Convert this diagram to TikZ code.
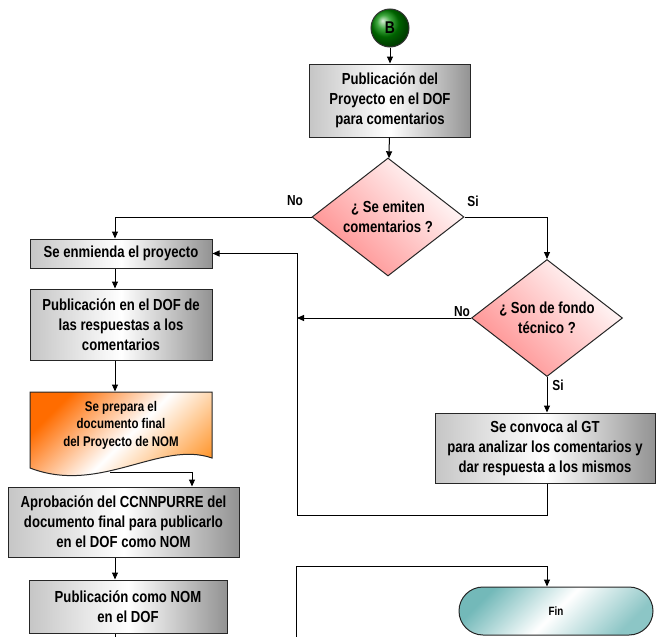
\documentclass[tikz,border=0pt]{standalone}
\usepackage{fontspec}
\setmainfont{Liberation Sans}[FakeStretch=0.82]
\usetikzlibrary{arrows.meta, positioning, shapes}

\tikzset{
  caja/.style = {draw=black!85, rectangle, align=center, inner sep=1pt,
    left color=gray!45, right color=gray!85, middle color=white},
  rombo/.style = {draw=black!85, diamond, aspect=1.3, align=center, inner sep=0pt,
    top color=white, bottom color=red!45, shading angle=-45},
  etiqueta/.style = {font=\bfseries\fontsize{14.5}{14.5}\selectfont}
}

\begin{document}
\begin{tikzpicture}[x=1pt, y=-1pt, line width=1pt,
    >={Triangle[length=7pt, width=6pt]},
    every node/.append style = {font=\bfseries\fontsize{16}{20}\selectfont}
  ]
  \useasboundingbox (0,0) rectangle (657,637);
  % columnas
  \coordinate (col) at (115,0);
  \coordinate (colder) at (192,0);
  \coordinate (colgt) at (547,0);
  \coordinate (lazo) at (297,515);
  \coordinate (abajo) at (0,637);
  \coordinate (entrafin) at (296,637);
  \coordinate (docsal) at (110,472);

  \node[circle, ball color=green!55!black, draw=black!80, minimum size=38pt,
    inner sep=0pt, font=\bfseries\fontsize{17}{17}\selectfont] (B) at (390,28) {B};

  \node[caja, minimum width=161pt, minimum height=73pt] (pubproy) at (390,100.5)
    {Publicación del\\Proyecto en el DOF\\para comentarios};
  \node[rombo, minimum width=152pt, minimum height=118pt] (emiten) at (388,217)
    {¿ Se emiten\\comentarios ?};

  \node[caja, minimum width=182pt, minimum height=29pt] (enmienda) at (121,253.5)
    {Se enmienda el proyecto};
  \node[caja, minimum width=182pt, minimum height=71pt] (respuestas) at (121,324.5)
    {Publicación en el DOF de\\las respuestas a los\\comentarios};

  % documento
  \draw[draw=black!85, left color=orange!85!red, right color=orange!80, middle color=white,
    shading angle=45]
    (30,392) -- (212,392) -- (212,458) .. controls (160,440) and (100,495) .. (30,468) -- cycle;
  \node[minimum width=182pt, minimum height=66pt, align=center,
    font=\bfseries\fontsize{14}{17.5}\selectfont] (docfinal) at (121,425)
    {Se prepara el\\documento final\\del Proyecto de NOM};

  \node[caja, minimum width=231pt, minimum height=70pt] (aprobacion) at (123.5,522)
    {Aprobación del CCNNPURRE del\\documento final para publicarlo\\en el DOF como NOM};
  \node[caja, minimum width=198pt, minimum height=53pt] (pubnom) at (128,606.5)
    {Publicación como NOM\\en el DOF};

  \node[rombo, minimum width=151pt, minimum height=117pt] (fondo) at (547,318)
    {¿ Son de fondo\\técnico ?};
  \node[caja, minimum width=220pt, minimum height=70pt] (convoca) at (545,448)
    {Se convoca al GT\\para analizar los comentarios y\\dar respuesta a los mismos};

  \node[draw=black!85, rectangle, rounded corners=24pt, minimum width=194pt,
    minimum height=48pt, left color=teal!55, right color=teal!45, middle color=white,
    shading angle=45, font=\bfseries\fontsize{12}{12}\selectfont] (fin) at (556,611) {Fin};

  \node[etiqueta] (no1) at (295,201) {No};
  \node[etiqueta] (si1) at (473,201) {Si};
  \node[etiqueta] (no2) at (462,312) {No};
  \node[etiqueta] (si2) at (558,385) {Si};

  \draw[->] (B) -- (pubproy);
  \draw[->] (pubproy) -- (emiten);
  \draw[->] (emiten.west) -| (enmienda.north -| col);
  \draw[->] (enmienda.south -| col) -- (respuestas.north -| col);
  \draw[->] (respuestas.south -| col) -- (docfinal.north -| col);
  \draw[->] (docsal) -| (aprobacion.north -| colder);
  \draw[->] (aprobacion.south -| col) -- (pubnom.north -| col);
  \draw (pubnom.south -| col) -- (col |- abajo);

  \draw[->] (emiten.east) -| (fondo.north);
  \draw[->] (fondo.west) -- (fondo.west -| lazo);
  \draw[->] (fondo.south) -- (fondo.south |- convoca.north);
  \draw[->] (convoca.south -| colgt) |- (lazo) |- (enmienda.east);
  \draw[->] (entrafin) |- ([yshift=20pt]fin.north -| colgt) -- (fin.north -| colgt);
\end{tikzpicture}
\end{document}
